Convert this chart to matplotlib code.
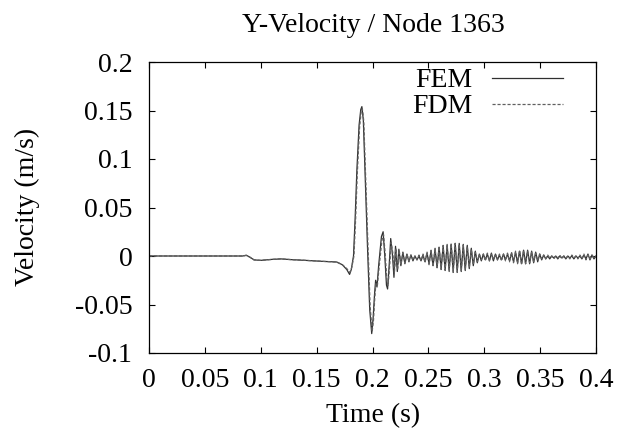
import matplotlib
matplotlib.use("Agg")
import matplotlib.pyplot as plt

# ---------------------------------------------------------------
# Data (time in s, velocity in m/s)
# ---------------------------------------------------------------
# main pulse, FEM
fem_t_pulse = [0.000, 0.084, 0.087, 0.090, 0.094, 0.100, 0.110, 0.118, 0.128, 0.140,
               0.155, 0.168, 0.173, 0.177, 0.1795, 0.181, 0.183, 0.1845, 0.186, 0.188,
               0.1895, 0.1905, 0.1918, 0.1935, 0.1955, 0.1975, 0.1993, 0.2005, 0.2018, 0.2028,
               0.2040, 0.2055, 0.2080, 0.2095, 0.2110, 0.2125, 0.2135, 0.2150, 0.2163, 0.2178,
               0.2192, 0.2206, 0.2222, 0.2236]
fem_v_pulse = [0.000, 0.000, 0.0008, -0.001, -0.004, -0.0045, -0.0035, -0.003, -0.0038, -0.0045,
               -0.0055, -0.0062, -0.009, -0.014, -0.019, -0.014, 0.000, 0.040, 0.088, 0.135,
               0.151, 0.154, 0.140, 0.080, 0.010, -0.055, -0.080, -0.065, -0.040, -0.025,
               -0.032, -0.010, 0.020, 0.025, 0.000, -0.030, -0.034, -0.008, 0.018, 0.002,
               -0.022, 0.010, -0.016, 0.007]

# main pulse, FDM
fdm_t_pulse = [0.000, 0.084, 0.087, 0.090, 0.094, 0.100, 0.110, 0.118, 0.128, 0.140,
               0.155, 0.168, 0.173, 0.177, 0.1798, 0.1814, 0.1834, 0.1849, 0.1864, 0.1884,
               0.1899, 0.1909, 0.1922, 0.1939, 0.1959, 0.1979, 0.1997, 0.2009, 0.2021, 0.2031,
               0.2044, 0.2059, 0.2084, 0.2099, 0.2114, 0.2129, 0.2139, 0.2154, 0.2167, 0.2182,
               0.2196, 0.2210, 0.2225, 0.2239]
fdm_v_pulse = [0.000, 0.000, 0.0006, -0.001, -0.004, -0.0045, -0.0035, -0.003, -0.0038, -0.0045,
               -0.0055, -0.0062, -0.009, -0.013, -0.017, -0.012, 0.000, 0.038, 0.085, 0.132,
               0.149, 0.152, 0.139, 0.080, 0.012, -0.052, -0.078, -0.066, -0.042, -0.028,
               -0.030, -0.012, 0.016, 0.022, 0.002, -0.026, -0.031, -0.010, 0.014, 0.003,
               -0.018, 0.008, -0.014, 0.006]

# ringing after the pulse (shared sample times)
t_ring = [0.2254, 0.2272, 0.2290, 0.2308, 0.2326, 0.2344, 0.2362, 0.2380, 0.2398, 0.2416,
          0.2434, 0.2452, 0.2470, 0.2488, 0.2506, 0.2524, 0.2542, 0.2560, 0.2578, 0.2596,
          0.2614, 0.2632, 0.2650, 0.2668, 0.2686, 0.2704, 0.2722, 0.2740, 0.2758, 0.2776,
          0.2794, 0.2812, 0.2830, 0.2848, 0.2866, 0.2884, 0.2902, 0.2920, 0.2938, 0.2956,
          0.2974, 0.2992, 0.3010, 0.3028, 0.3046, 0.3064, 0.3082, 0.3100, 0.3118, 0.3136,
          0.3154, 0.3172, 0.3190, 0.3208, 0.3226, 0.3244, 0.3262, 0.3280, 0.3298, 0.3316,
          0.3334, 0.3352, 0.3370, 0.3388, 0.3406, 0.3424, 0.3442, 0.3460, 0.3478, 0.3496,
          0.3514, 0.3532, 0.3550, 0.3568, 0.3586, 0.3604, 0.3622, 0.3640, 0.3658, 0.3676,
          0.3694, 0.3712, 0.3730, 0.3748, 0.3766, 0.3784, 0.3802, 0.3820, 0.3838, 0.3856,
          0.3874, 0.3892, 0.3910, 0.3928, 0.3946, 0.3964, 0.3982, 0.4000]
fem_v_ring = [-0.010, 0.004, -0.008, 0.002, -0.006, 0.001, -0.005, 0.000, -0.004, 0.000,
              -0.005, 0.001, -0.006, 0.003, -0.008, 0.005, -0.010, 0.007, -0.012, 0.009,
              -0.013, 0.010, -0.014, 0.011, -0.015, 0.012, -0.016, 0.013, -0.016, 0.013,
              -0.016, 0.012, -0.015, 0.011, -0.013, 0.008, -0.010, 0.005, -0.007, 0.002,
              -0.005, 0.002, -0.004, 0.002, -0.005, 0.003, -0.005, 0.002, -0.004, 0.001,
              -0.004, 0.002, -0.004, 0.002, -0.005, 0.003, -0.006, 0.004, -0.007, 0.005,
              -0.008, 0.006, -0.008, 0.006, -0.008, 0.005, -0.007, 0.004, -0.006, 0.002,
              -0.004, 0.001, -0.003, 0.000, -0.003, 0.000, -0.002, 0.000, -0.003, 0.000,
              -0.002, 0.000, -0.003, 0.000, -0.002, 0.000, -0.003, 0.000, -0.002, 0.000,
              -0.003, 0.001, -0.003, 0.002, -0.004, 0.001, -0.003, 0.000]
fdm_v_ring = [-0.009, 0.003, -0.007, 0.002, -0.005, 0.001, -0.004, 0.000, -0.004, 0.001,
              -0.005, 0.002, -0.007, 0.004, -0.009, 0.006, -0.011, 0.008, -0.012, 0.010,
              -0.014, 0.011, -0.015, 0.012, -0.016, 0.013, -0.017, 0.013, -0.017, 0.012,
              -0.015, 0.011, -0.014, 0.010, -0.012, 0.007, -0.009, 0.004, -0.006, 0.002,
              -0.004, 0.002, -0.005, 0.003, -0.005, 0.002, -0.004, 0.002, -0.004, 0.002,
              -0.005, 0.002, -0.005, 0.003, -0.006, 0.004, -0.007, 0.005, -0.008, 0.006,
              -0.009, 0.006, -0.008, 0.005, -0.007, 0.004, -0.006, 0.003, -0.005, 0.002,
              -0.003, 0.001, -0.003, 0.001, -0.002, 0.000, -0.003, 0.000, -0.002, 0.001,
              -0.003, 0.000, -0.002, 0.000, -0.003, 0.001, -0.002, 0.000, -0.003, 0.001,
              -0.003, 0.002, -0.004, 0.001, -0.003, 0.001, -0.002, 0.000]

x_ticks = [0, 0.05, 0.1, 0.15, 0.2, 0.25, 0.3, 0.35, 0.4]
x_labels = ["0", "0.05", "0.1", "0.15", "0.2", "0.25", "0.3", "0.35", "0.4"]
y_ticks = [-0.1, -0.05, 0, 0.05, 0.1, 0.15, 0.2]
y_labels = ["-0.1", "-0.05", "0", "0.05", "0.1", "0.15", "0.2"]

# ---------------------------------------------------------------
# Plot (gnuplot-like look)
# ---------------------------------------------------------------
plt.rcParams["font.family"] = ["Liberation Serif", "DejaVu Serif"]
fs = 20

fig = plt.figure(figsize=(6.28, 4.37), dpi=100)
ax = fig.add_axes([149 / 628, 84 / 437, 447 / 628, 291 / 437])

ax.plot(fem_t_pulse + t_ring, fem_v_pulse + fem_v_ring, color="#303030", linewidth=0.9, label="FEM")
ax.plot(fdm_t_pulse + t_ring, fdm_v_pulse + fdm_v_ring, color="#606060", linewidth=0.9,
        linestyle=(0, (2.5, 1.5)), label="FDM")

ax.set_xlim(0, 0.4)
ax.set_ylim(-0.1, 0.2)
ax.set_xticks(x_ticks)
ax.set_xticklabels(x_labels)
ax.set_yticks(y_ticks)
ax.set_yticklabels(y_labels)
ax.tick_params(direction="in", top=True, right=True, length=4.5, width=0.8, labelsize=fs)
ax.tick_params(axis="x", pad=11)
ax.tick_params(axis="y", pad=12)
for s in ax.spines.values():
    s.set_linewidth(0.9)

fig.text(373 / 628, 1 - 25 / 437, "Y-Velocity / Node 1363", ha="center", va="center", fontsize=fs)
fig.text(373 / 628, 1 - 416 / 437, "Time (s)", ha="center", va="center", fontsize=fs)
fig.text(27 / 628, 1 - 207 / 437, "Velocity (m/s)", ha="center", va="center", rotation=90, fontsize=fs)

ax.legend(loc="upper right", bbox_to_anchor=((563 - 149) / 447, (353 - 68) / 291), frameon=False,
          markerfirst=False, fontsize=fs, handlelength=2.55, handletextpad=0.7,
          borderpad=0, borderaxespad=0, labelspacing=0.02)

plt.savefig("out.png", dpi=100)
